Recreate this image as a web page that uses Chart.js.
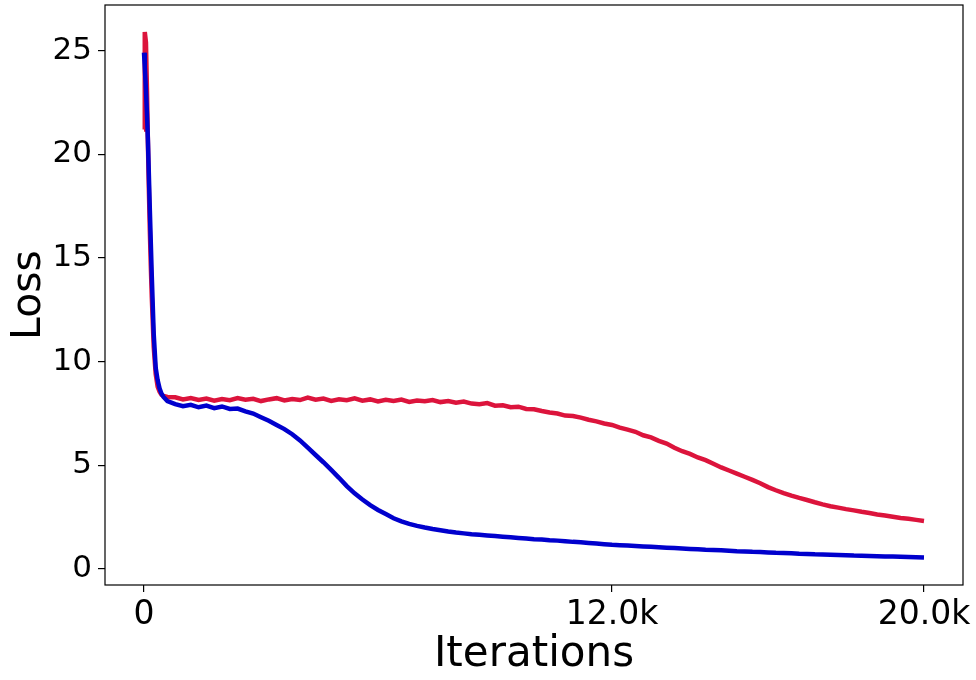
<!DOCTYPE html>
<html>
<head>
<meta charset="utf-8">
<script src="https://cdn.jsdelivr.net/npm/chart.js@4.4.1/dist/chart.umd.min.js"></script>
<style>
  html, body { margin: 0; padding: 0; background: #fff; }
  canvas { display: block; }
</style>
</head>
<body>
<canvas id="lossChart" width="976" height="680"></canvas>
<script>
// iteration steps (x)
const iterations = [
    0, 20, 50, 75, 100, 125, 150, 175, 200, 250, 300, 350, 400, 450, 500, 600,
    800, 1000, 1200, 1400, 1600, 1800, 2000, 2200, 2400, 2600, 2800, 3000,
    3200, 3400, 3600, 3800, 4000, 4200, 4400, 4600, 4800, 5000, 5200, 5400,
    5600, 5800, 6000, 6200, 6400, 6600, 6800, 7000, 7200, 7400, 7600, 7800,
    8000, 8200, 8400, 8600, 8800, 9000, 9200, 9400, 9600, 9800, 10000, 10200,
    10400, 10600, 10800, 11000, 11200, 11400, 11600, 11800, 12000, 12200, 12400,
    12600, 12800, 13000, 13200, 13400, 13600, 13800, 14000, 14200, 14400, 14600,
    14800, 15000, 15200, 15400, 15600, 15800, 16000, 16200, 16400, 16600, 16800,
    17000, 17200, 17400, 17600, 17800, 18000, 18200, 18400, 18600, 18800, 19000,
    19200, 19400, 19600, 19800, 20000
];

// red curve
const redLoss = [
    21.2, 25.9, 25.4, 23.2, 20.6, 18.3, 16.3, 14.6, 13.1, 10.7, 9.4, 8.8, 8.55, 8.4, 8.35, 8.3,
    8.28, 8.18, 8.25, 8.15, 8.22, 8.12, 8.2, 8.14, 8.24, 8.16, 8.21, 8.1,
    8.18, 8.24, 8.13, 8.2, 8.15, 8.27, 8.17, 8.22, 8.11, 8.19, 8.14, 8.23,
    8.12, 8.18, 8.08, 8.16, 8.1, 8.17, 8.06, 8.13, 8.09, 8.15, 8.05, 8.1,
    8.02, 8.08, 7.98, 7.95, 8.0, 7.88, 7.9, 7.8, 7.83, 7.72, 7.7, 7.62,
    7.55, 7.5, 7.4, 7.38, 7.3, 7.2, 7.12, 7.02, 6.95, 6.82, 6.72,
    6.62, 6.45, 6.35, 6.18, 6.05, 5.85, 5.68, 5.55, 5.38, 5.25, 5.08,
    4.9, 4.75, 4.6, 4.45, 4.3, 4.14, 3.95, 3.8, 3.66, 3.54, 3.43,
    3.33, 3.22, 3.12, 3.03, 2.96, 2.89, 2.83, 2.76, 2.7, 2.63, 2.58,
    2.52, 2.46, 2.42, 2.37, 2.32
];

// blue curve
const blueLoss = [
    24.9, 24.2, 23.1, 22.0, 20.7, 19.0, 17.3, 15.7, 14.1, 11.3, 9.7, 9.1, 8.7, 8.45, 8.3, 8.1,
    7.95, 7.85, 7.92, 7.8, 7.88, 7.76, 7.84, 7.72, 7.74, 7.6, 7.5, 7.32,
    7.15, 6.95, 6.75, 6.5, 6.2, 5.85, 5.5, 5.15, 4.78, 4.4, 4.0, 3.65,
    3.35, 3.08, 2.85, 2.65, 2.45, 2.3, 2.18, 2.08, 2.0, 1.93, 1.87, 1.81,
    1.76, 1.72, 1.68, 1.65, 1.62, 1.59, 1.56, 1.53, 1.5, 1.47, 1.44, 1.42,
    1.39, 1.37, 1.34, 1.31, 1.29, 1.26, 1.23, 1.2, 1.17, 1.15, 1.13,
    1.11, 1.09, 1.07, 1.05, 1.03, 1.01, 0.99, 0.97, 0.95, 0.93, 0.92,
    0.9, 0.88, 0.86, 0.85, 0.83, 0.82, 0.8, 0.78, 0.77, 0.76, 0.74,
    0.73, 0.71, 0.7, 0.69, 0.68, 0.67, 0.65, 0.64, 0.63, 0.62, 0.61,
    0.6, 0.59, 0.58, 0.57, 0.56
];

const xTickValues = [0, 12000, 20000];
const xTickLabels = ["0", "12.0k", "20.0k"];
const yTickValues = [0, 5, 10, 15, 20, 25];

const toPoints = (ys) => iterations.map((x, i) => ({ x: x, y: ys[i] }));

// full box around the plot area
const frame = {
    id: "frame",
    afterDatasetsDraw(chart) {
        const a = chart.chartArea;
        const ctx = chart.ctx;
        ctx.save();
        ctx.strokeStyle = "#000";
        ctx.lineWidth = 1.2;
        ctx.strokeRect(a.left, a.top, a.right - a.left, a.bottom - a.top);
        ctx.restore();
    }
};

new Chart(document.getElementById("lossChart"), {
    type: "line",
    data: {
        datasets: [
            {
                label: "blue",
                data: toPoints(blueLoss),
                borderColor: "#0000CD",
                borderWidth: 4.5,
                pointRadius: 0,
                tension: 0
            },
            {
                label: "red",
                data: toPoints(redLoss),
                borderColor: "#DC143C",
                borderWidth: 4.5,
                pointRadius: 0,
                tension: 0
            }
        ]
    },
    options: {
        responsive: false,
        animation: false,
        layout: { padding: { top: 5, right: 13, left: 0, bottom: 0 } },
        plugins: {
            legend: { display: false },
            tooltip: { enabled: false }
        },
        scales: {
            x: {
                type: "linear",
                min: -1000,
                max: 21000,
                afterBuildTicks: (s) => { s.ticks = xTickValues.map(v => ({ value: v })); },
                afterFit: (s) => { s.height = 95; s.paddingLeft = 0; s.paddingRight = 0; },
                grid: { drawOnChartArea: false, drawTicks: true, tickLength: 7, color: "#000", lineWidth: 1.2 },
                border: { display: false },
                ticks: {
                    color: "#000",
                    font: { family: "DejaVu Sans", size: 33 },
                    padding: 4,
                    maxRotation: 0,
                    autoSkip: false,
                    callback: (v) => xTickLabels[xTickValues.indexOf(v)]
                },
                title: {
                    display: true,
                    text: "Iterations",
                    color: "#000",
                    font: { family: "DejaVu Sans", size: 42 },
                    padding: { top: 0, bottom: 0 }
                }
            },
            y: {
                min: -0.77,
                max: 27.2,
                afterBuildTicks: (s) => { s.ticks = yTickValues.map(v => ({ value: v })); },
                afterFit: (s) => { s.width = 105; s.paddingTop = 0; s.paddingBottom = 0; },
                grid: { drawOnChartArea: false, drawTicks: true, tickLength: 7, color: "#000", lineWidth: 1.2 },
                border: { display: false },
                ticks: {
                    color: "#000",
                    font: { family: "DejaVu Sans", size: 31 },
                    padding: 6
                },
                title: {
                    display: true,
                    text: "Loss",
                    color: "#000",
                    font: { family: "DejaVu Sans", size: 41 },
                    padding: { top: 5, bottom: 0 }
                }
            }
        }
    },
    plugins: [frame]
});
</script>
</body>
</html>
